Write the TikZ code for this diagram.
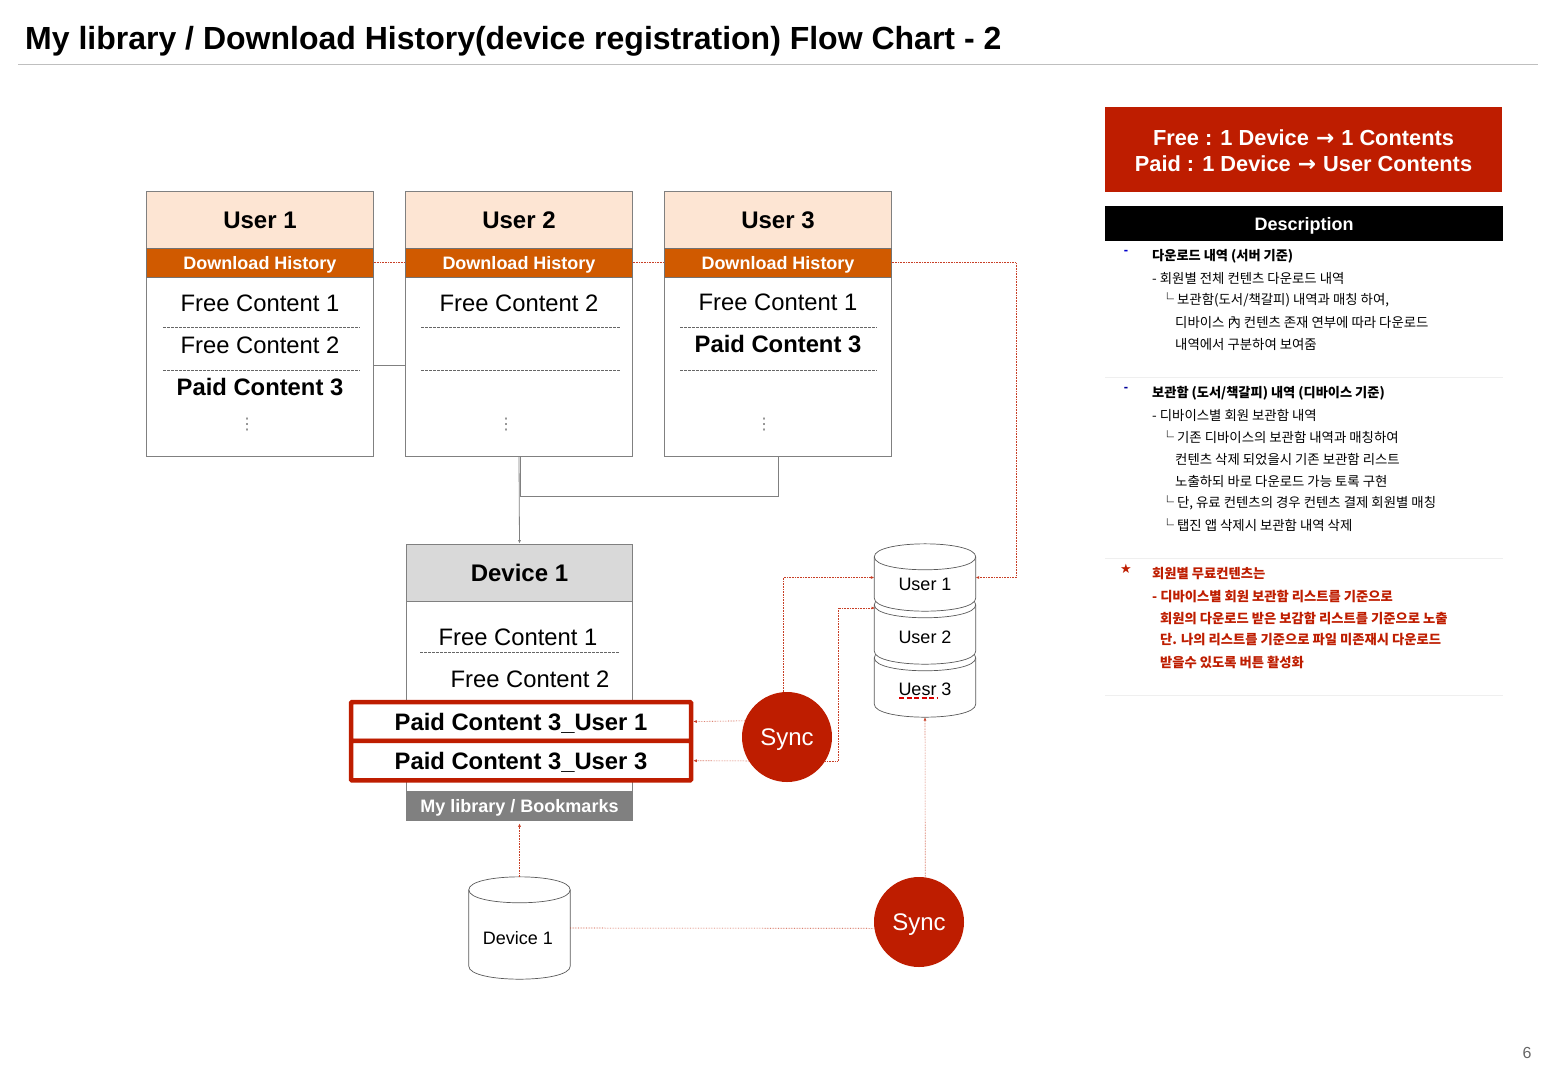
\documentclass[tikz,border=0pt]{standalone}
\usepackage{fontspec}
\setmainfont{Liberation Sans}
\newfontfamily\cjk{Noto Sans CJK KR}
\newfontfamily\symb{DejaVu Sans}
\usetikzlibrary{positioning, calc, arrows.meta}
\definecolor{Brick}{HTML}{BE1D00}
\definecolor{Peach}{HTML}{FDE5D3}
\definecolor{Rust}{HTML}{D05A00}
\definecolor{Steel}{HTML}{808080}
\definecolor{Silver}{HTML}{D9D9D9}
\definecolor{Hair}{HTML}{EFEFEF}
\tikzset{
    cardbody/.style={rectangle, draw=Steel, fill=white, line width=0.8pt, minimum width=226.5pt, inner sep=0pt},
    cardhead/.style={rectangle, draw=Steel, fill=Peach, line width=0.8pt, minimum width=226.5pt, minimum height=57pt, inner sep=0pt, text height=18pt, text depth=0pt, font=\fontsize{24}{28}\selectfont\bfseries},
    cardbar/.style={rectangle, draw=black!55, fill=Rust, text=white, line width=0.8pt, minimum width=226.5pt, minimum height=29pt, inner sep=0pt, text depth=0pt, font=\fontsize{18}{22}\selectfont\bfseries},
    freeitem/.style={inner sep=0pt, font=\fontsize{23.8}{28}\selectfont},
    paiditem/.style={inner sep=0pt, font=\fontsize{23.8}{28}\selectfont\bfseries},
    paidbox/.style={rectangle, draw=Brick, fill=white, line width=4.5pt, rounded corners=1pt, minimum width=340pt, inner sep=0pt, text depth=0pt, font=\fontsize{23.8}{28}\selectfont\bfseries},
    sepline/.style={draw=black!60, line width=1pt, dash pattern=on 3pt off 1pt},
    moredots/.style={text=Steel, inner sep=0pt, font=\symb\fontsize{16}{18}\selectfont},
    syncnode/.style={circle, fill=Brick, text=white, minimum size=90pt, inner sep=0pt, text depth=0pt, font=\fontsize{24}{28}\selectfont},
    dbbox/.style={rectangle, minimum width=101pt, inner sep=0pt},
    dbline/.style={draw=black!65, fill=white, line width=0.7pt},
    dbtext/.style={inner sep=0pt, font=\fontsize{18}{22}\selectfont},
    grayline/.style={draw=Steel, line width=0.8pt},
    redline/.style={draw=Brick!85, line width=0.6pt, densely dotted},
    tip/.style={-{Latex[length=3.5pt,width=3pt]}},
    desctext/.style={anchor=west, inner sep=0pt, font=\cjk\fontsize{13.4}{15}\selectfont},
    deschead/.style={desctext, font=\cjk\bfseries\fontsize{13.2}{15}\selectfont},
    descred/.style={desctext, text=Brick, font=\cjk\bfseries\fontsize{13.3}{15}\selectfont},
    descline/.style={draw=Hair, line width=0.8pt},
}
% drum drawn over a named box
\newcommand{\dbdrum}[1]{
    \draw[dbline] ($(#1.north west)+(0,13)$) .. controls ($(#1.north west)+(0,-4.3)$) and ($(#1.north east)+(0,-4.3)$) .. ($(#1.north east)+(0,13)$)
        -- ($(#1.south east)+(0,-13)$) .. controls ($(#1.south east)+(0,4.3)$) and ($(#1.south west)+(0,4.3)$) .. ($(#1.south west)+(0,-13)$) -- cycle;
    \draw[dbline, fill=none] ($(#1.north west)+(0,13)$) .. controls ($(#1.north west)+(0,30.3)$) and ($(#1.north east)+(0,30.3)$) .. ($(#1.north east)+(0,13)$);
}
\begin{document}
\begin{tikzpicture}[x=1pt, y=-1pt]
    \useasboundingbox (0,0) rectangle (1558,1080);

    % Title
    \node[anchor=west, inner sep=0pt, text depth=0pt, font=\fontsize{32}{38}\selectfont\bfseries] (title) at (25,38) {My library / Download History(device registration) Flow Chart - 2};
    \draw[draw=black!25, line width=0.8pt] (18,64) -- (1538,64);

    % User 1
    \node[cardbody, minimum height=179.5pt] (bodyone) at (260,367) {};
    \node[cardhead] (headone) at (260,219.5) {User 1};
    \node[cardbar] (barone) at (260,262.5) {Download History};
    \node[freeitem] (itemoneA) at (260,303) {Free Content 1};
    \draw[sepline] (163,327) -- (360,327);
    \node[freeitem] (itemoneB) at (260,345) {Free Content 2};
    \draw[sepline] (163,370) -- (360,370);
    \node[paiditem] (itemoneC) at (260,387) {Paid Content 3};
    \node[moredots] (dotsone) at (247,425) {⋮};

    % User 2
    \node[cardbody, minimum height=179.5pt] (bodytwo) at (519,367) {};
    \node[cardhead] (headtwo) at (519,219.5) {User 2};
    \node[cardbar] (bartwo) at (519,262.5) {Download History};
    \node[freeitem] (itemtwoA) at (519,303) {Free Content 2};
    \draw[sepline] (421,327) -- (620,327);
    \draw[sepline] (421,370) -- (620,370);
    \node[moredots] (dotstwo) at (506,425) {⋮};

    % User 3
    \node[cardbody, minimum height=179.5pt] (bodythree) at (778,367) {};
    \node[cardhead] (headthree) at (778,219.5) {User 3};
    \node[cardbar] (barthree) at (778,262.5) {Download History};
    \node[freeitem] (itemthreeA) at (778,302) {Free Content 1};
    \draw[sepline] (680,327) -- (877,327);
    \node[paiditem] (itemthreeB) at (778,344) {Paid Content 3};
    \draw[sepline] (680,370) -- (877,370);
    \node[moredots] (dotsthree) at (764,425) {⋮};

    % Device 1
    \node[cardbody, minimum height=191pt] (devbody) at (519.5,695.5) {};
    \node[cardhead, fill=Silver, text height=17pt] (devhead) at (519.5,572.5) {Device 1};
    \node[cardbar, fill=Steel, draw=Steel] (devbar) at (519.5,805.5) {My library / Bookmarks};
    \node[freeitem] (devitemA) at (518,637) {Free Content 1};
    \draw[sepline] (420,652) -- (619,652);
    \node[freeitem] (devitemB) at (530,679) {Free Content 2};
    \node[paidbox, minimum height=39pt] (paidone) at (521,721.5) {Paid Content 3\_User 1};
    \node[paidbox, minimum height=39.5pt] (paidtwo) at (521,760.7) {Paid Content 3\_User 3};

    % Sync
    \node[syncnode] (syncone) at (787,737) {Sync};
    \node[syncnode] (synctwo) at (919,922) {Sync};

    % Cylinders
    \node[dbbox, minimum height=72pt] (dbthree) at (925,681) {};
    \node[dbbox, minimum height=72pt] (dbtwo) at (925,628) {};
    \node[dbbox, minimum height=67pt] (dbone) at (925,577.5) {};
    \node[dbbox, minimum height=102pt] (dbdevice) at (519.5,928) {};
    \dbdrum{dbthree}
    \dbdrum{dbtwo}
    \dbdrum{dbone}
    \dbdrum{dbdevice}
    \node[dbtext] (dbonetxt) at (925,584) {User 1};
    \node[dbtext] (dbtwotxt) at (925,637) {User 2};
    \node[dbtext] (dbthreetxt) at (925,689) {Uesr 3};
    \draw[draw=red!85!black, line width=2.6pt, dash pattern=on 5pt off 2.5pt] (899,698) -- (937,698);
    \node[dbtext] (dbdevicetxt) at (518,938) {Device 1};

    % Connectors, gray
    \draw[grayline] ([yshift=2pt]bodyone.east) -- ([yshift=2pt]bodytwo.west);
    \draw[grayline, tip] (bodytwo.south) -- (devhead.north);
    \coordinate (joinup) at (520.5,496);
    \draw[grayline] (bodythree.south) |- (joinup) -- (joinup |- bodytwo.south);

    % Connectors, red
    \coordinate (rightturn) at (1016,577.5);
    \coordinate (dbtwoin) at (875,608);
    \coordinate (midturn) at (838,608);
    \draw[redline] (barone.east) -- (bartwo.west);
    \draw[redline] (bartwo.east) -- (barthree.west);
    \draw[redline, tip] (barthree.east) -| (rightturn) -- (dbone.east);
    \draw[redline, tip] (syncone.159) -- (paidone.east);
    \draw[redline, tip] (syncone.212) -- (paidtwo.east);
    \draw[redline, tip] (syncone.95) |- (dbone.west);
    \draw[redline, tip] (syncone.-32) -| (midturn) -- (dbtwoin);
    \draw[redline, tip] (synctwo.82) -- (dbthree.south);
    \draw[redline] (dbdevice.east) -- (synctwo.188);
    \draw[redline, tip, shorten >=3pt] (dbdevice.north) -- (devbar.south);

    % Panel on the right
    \node[rectangle, fill=Brick, minimum width=397pt, minimum height=85pt, inner sep=0pt] (rulebox) at (1303.5,149.5) {};
    \node[text=white, inner sep=0pt, align=center, font=\fontsize{21.8}{26}\selectfont\bfseries] (ruletext) at (1303.5,150.5) {Free : 1 Device {\symb\kern1pt→\kern1pt} 1 Contents\\Paid : 1 Device {\symb\kern1pt→\kern1pt} User Contents};
    \node[rectangle, fill=black, text=white, minimum width=398pt, minimum height=35pt, inner sep=0pt, text height=14pt, text depth=0pt, font=\fontsize{18}{22}\selectfont\bfseries] (descbox) at (1304,223.5) {Description};

    % Section 1
    \node[text=blue!80!black, font=\bfseries\fontsize{13}{15}\selectfont, inner sep=0pt] (bulletA) at (1126,252) {-};
    \node[deschead] (descAa) at (1152,256) {다운로드 내역 (서버 기준)};
    \node[desctext] (descAb) at (1152,278) {- 회원별 전체 컨텐츠 다운로드 내역};
    \node[desctext] (descAc) at (1160.5,300) {└ 보관함(도서/책갈피) 내역과 매칭 하여,};
    \node[desctext] (descAd) at (1175,322) {디바이스 內 컨텐츠 존재 연부에 따라 다운로드};
    \node[desctext] (descAe) at (1175,344) {내역에서 구분하여 보여줌};
    \draw[descline] (1105,377.5) -- (1503,377.5);

    % Section 2
    \node[text=blue!60!black, font=\bfseries\fontsize{13}{15}\selectfont, inner sep=0pt] (bulletB) at (1126,389) {-};
    \node[deschead] (descBa) at (1152,393) {보관함 (도서/책갈피) 내역 (디바이스 기준)};
    \node[desctext] (descBb) at (1152,415) {- 디바이스별 회원 보관함 내역};
    \node[desctext] (descBc) at (1160.5,437) {└ 기존 디바이스의 보관함 내역과 매칭하여};
    \node[desctext] (descBd) at (1175,459) {컨텐츠 삭제 되었을시 기존 보관함 리스트};
    \node[desctext] (descBe) at (1175,481) {노출하되 바로 다운로드 가능 토록 구현};
    \node[desctext] (descBf) at (1160.5,503) {└ 단, 유료 컨텐츠의 경우 컨텐츠 결제 회원별 매칭};
    \node[desctext] (descBg) at (1160.5,525) {└ 탭진 앱 삭제시 보관함 내역 삭제};
    \draw[descline] (1105,558.5) -- (1503,558.5);

    % Section 3
    \node[text=Brick, font=\symb\fontsize{13}{15}\selectfont, inner sep=0pt] (bulletC) at (1126,569) {★};
    \node[descred] (descCa) at (1152,574) {회원별 무료컨텐츠는};
    \node[descred] (descCb) at (1152,596) {- 디바이스별 회원 보관함 리스트를 기준으로};
    \node[descred] (descCc) at (1160,618) {회원의 다운로드 받은 보감함 리스트를 기준으로 노출};
    \node[descred] (descCd) at (1160,640) {단. 나의 리스트를 기준으로 파일 미존재시 다운로드};
    \node[descred] (descCe) at (1160,662) {받을수 있도록 버튼 활성화};
    \draw[descline] (1105,695.5) -- (1503,695.5);

    % Page number
    \node[text=black!60, inner sep=0pt, font=\fontsize{16}{18}\selectfont] (pagenum) at (1527,1053) {6};
\end{tikzpicture}
\end{document}
